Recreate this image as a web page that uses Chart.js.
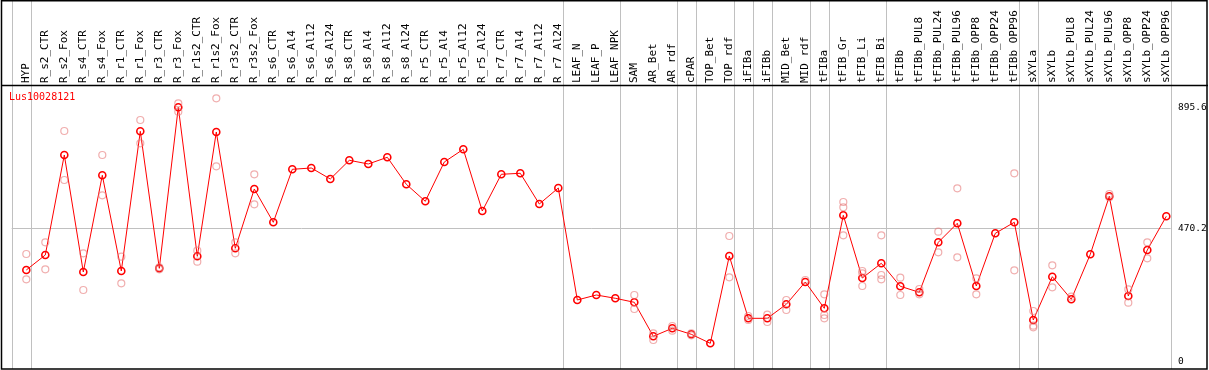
<!doctype html>
<html lang="en">
<head>
<meta charset="utf-8">
<title>Lus10028121</title>
<style>
  * { margin: 0; padding: 0; }
  body { background: #fff; }
  canvas { display: block; }
</style>
</head>
<body>
<canvas id="myChart" width="1209" height="370"></canvas>
<script src="https://cdn.jsdelivr.net/npm/chart.js/dist/chart.umd.min.js"></script>
<script>
// sample names along the top
const categories = [
  'HYP', 'R_s2_CTR', 'R_s2_Fox', 'R_s4_CTR', 'R_s4_Fox', 'R_r1_CTR', 'R_r1_Fox', 'R_r3_CTR', 'R_r3_Fox',
  'R_r1s2_CTR', 'R_r1s2_Fox', 'R_r3s2_CTR', 'R_r3s2_Fox', 'R_s6_CTR', 'R_s6_Al4', 'R_s6_Al12', 'R_s6_Al24',
  'R_s8_CTR', 'R_s8_Al4', 'R_s8_Al12', 'R_s8_Al24', 'R_r5_CTR', 'R_r5_Al4', 'R_r5_Al12', 'R_r5_Al24',
  'R_r7_CTR', 'R_r7_Al4', 'R_r7_Al12', 'R_r7_Al24', 'LEAF_N', 'LEAF_P', 'LEAF_NPK', 'SAM', 'AR_Bet', 'AR_rdf',
  'cPAR', 'TOP_Bet', 'TOP_rdf', 'iFIBa', 'iFIBb', 'MID_Bet', 'MID_rdf', 'tFIBa', 'tFIB_Gr', 'tFIB_Li', 'tFIB_Bi',
  'tFIBb', 'tFIBb_PUL8', 'tFIBb_PUL24', 'tFIBb_PUL96', 'tFIBb_OPP8', 'tFIBb_OPP24', 'tFIBb_OPP96',
  'sXYLa', 'sXYLb', 'sXYLb_PUL8', 'sXYLb_PUL24', 'sXYLb_PUL96', 'sXYLb_OPP8', 'sXYLb_OPP24', 'sXYLb_OPP96'
];

// mean expression (line)
const meanValues = [
  323.5, 376.2, 727.8, 316.4, 656.4, 320.0, 811.1, 329.4, 895.6,
  371.6, 808.7, 399.8, 608.3, 491.2, 677.5, 682.1, 643.4,
  709.2, 696.2, 719.7, 624.8, 565.0, 703.2, 747.9, 530.9,
  660.0, 663.5, 555.5, 611.8, 218.0, 235.6, 224.0, 209.9, 90.4, 118.5,
  97.4, 65.7, 372.7, 153.6, 153.6, 202.9, 281.3, 188.8, 515.8, 295.3, 347.0,
  266.2, 245.1, 420.9, 487.7, 267.2, 452.5, 491.2,
  147.7, 299.9, 220.5, 378.7, 582.6, 232.1, 393.8, 512.3
];

// replicates (pale circles), null = not shown
const rep1 = [
  379.7, 420.9, 812.2, 382.2, 727.8, 370.2, 850.9, 333.0, 909.6,
  391.3, 927.2, 420.9, 660.0, null, null, null, null,
  null, null, null, null, null, null, null, null,
  null, null, null, null, null, null, null, 235.6, 100.9, 126.6,
  100.9, null, 443.0, 161.7, 166.3, 218.0, 288.3, 238.0, 562.6, 320.0, 445.5,
  296.4, 256.7, 458.1, 610.7, 294.3, null, 663.5,
  179.3, 340.0, 229.6, null, 590.7, 255.6, 420.9, null
];
const rep2 = [
  290.8, 325.9, 639.9, 253.2, 586.1, 276.7, 769.0, 325.9, 880.1,
  352.7, 688.1, 382.2, 554.5, null, null, null, null,
  null, null, null, null, null, null, null, null,
  null, null, null, null, null, null, null, 186.3, 77.4, 110.0,
  93.9, null, 297.8, 147.7, 140.6, 182.8, null, 165.3, 543.9, 311.9, 305.9,
  235.6, 238.0, 385.7, 368.1, 238.0, null, 322.4,
  127.6, 262.6, null, null, 579.1, 208.5, 364.6, null
];
const rep3 = [
  null, null, null, null, null, null, null, null, null,
  null, null, null, null, null, null, null, null,
  null, null, null, null, null, null, null, null,
  null, null, null, null, null, null, null, null, null, null,
  null, null, null, null, null, null, null, 153.6, 445.5, 267.2, 290.8,
  null, null, null, null, null, null, null,
  122.0, null, null, null, null, null, null, null
];

const yTicks = [0, 470.2, 895.6];
const refLine = 470.2;
// vertical separators sit just after these sample indexes
const groupEnds = [-1, 0, 28, 31, 34, 35, 37, 38, 39, 41, 42, 45, 52, 53, 60];
const geneName = 'Lus10028121';

const toPoints = arr => arr.map((v, i) => ({x: i, y: v}));

const paleStyle = {
  showLine: false,
  pointRadius: 3.5,
  pointBorderWidth: 1.2,
  pointBorderColor: 'rgba(230,120,120,0.6)',
  pointBackgroundColor: 'rgba(0,0,0,0)',
  pointHoverRadius: 3.5
};

const frame = {
  id: 'frame',
  beforeDraw(chart) {
    const {ctx} = chart;
    ctx.save();
    ctx.fillStyle = '#fff';
    ctx.fillRect(0, 0, chart.width, chart.height);
    ctx.restore();
  },
  beforeDatasetsDraw(chart) {
    const {ctx, chartArea: {bottom}, scales: {x, y}} = chart;
    ctx.save();
    ctx.strokeStyle = '#c0c0c0';
    ctx.lineWidth = 1;
    groupEnds.forEach(g => {
      const px = Math.round(x.getPixelForValue(g + 0.23)) + 0.5;
      ctx.beginPath();
      ctx.moveTo(px, 0);
      ctx.lineTo(px, bottom);
      ctx.stroke();
    });
    const py = Math.round(y.getPixelForValue(refLine)) + 0.5;
    ctx.beginPath();
    ctx.moveTo(x.getPixelForValue(groupEnds[0] + 0.23), py);
    ctx.lineTo(x.getPixelForValue(groupEnds[groupEnds.length - 1] + 0.23), py);
    ctx.stroke();
    ctx.restore();
  },
  afterDraw(chart) {
    const {ctx, chartArea: {top, bottom}} = chart;
    ctx.save();
    ctx.strokeStyle = '#000';
    ctx.lineWidth = 1.5;
    ctx.strokeRect(1.5, 0.75, 1205.5, bottom - 0.75);
    ctx.beginPath();
    ctx.moveTo(1, top + 0.5);
    ctx.lineTo(1208, top + 0.5);
    ctx.stroke();
    ctx.fillStyle = '#ff0000';
    ctx.font = '10px "DejaVu Sans Mono"';
    ctx.textBaseline = 'middle';
    ctx.fillText(geneName, 9, 97);
    ctx.restore();
  }
};

new Chart(document.getElementById('myChart'), {
  type: 'scatter',
  data: {
    datasets: [
      Object.assign({data: toPoints(rep1)}, paleStyle),
      Object.assign({data: toPoints(rep2)}, paleStyle),
      Object.assign({data: toPoints(rep3)}, paleStyle),
      {
        data: toPoints(meanValues),
        showLine: true,
        borderColor: '#ff0000',
        borderWidth: 1,
        pointRadius: 3.5,
        pointBorderWidth: 1.6,
        pointBorderColor: '#ff0000',
        pointBackgroundColor: 'rgba(0,0,0,0)',
        pointHoverRadius: 3.5
      }
    ]
  },
  options: {
    responsive: false,
    animation: false,
    devicePixelRatio: 1,
    layout: {autoPadding: false, padding: {left: 1, right: 0, top: 0, bottom: 1}},
    plugins: {legend: {display: false}, tooltip: {enabled: false}},
    scales: {
      x: {
        type: 'linear',
        position: 'top',
        min: -1.3316,
        max: 60.405,
        grid: {display: false, drawTicks: false},
        border: {display: false},
        afterFit(s) { s.height = 85; s.paddingLeft = 0; s.paddingRight = 0; },
        afterBuildTicks(axis) { axis.ticks = categories.map((c, i) => ({value: i})); },
        ticks: {
          autoSkip: false,
          minRotation: 90,
          maxRotation: 90,
          padding: 2,
          labelOffset: 13,
          color: '#000',
          font: {family: 'DejaVu Sans Mono', size: 11},
          callback: v => categories[v]
        }
      },
      y: {
        type: 'linear',
        position: 'right',
        min: -24.6,
        max: 973.9,
        grid: {display: false, drawTicks: false},
        border: {display: false},
        afterFit(s) { s.width = 35; s.paddingTop = 0; s.paddingBottom = 0; },
        afterBuildTicks(axis) { axis.ticks = yTicks.map(v => ({value: v})); },
        ticks: {
          padding: 4,
          color: '#000',
          font: {family: 'DejaVu Sans Mono', size: 9.5},
          callback: v => String(v)
        }
      }
    }
  },
  plugins: [frame]
});
</script>
</body>
</html>
